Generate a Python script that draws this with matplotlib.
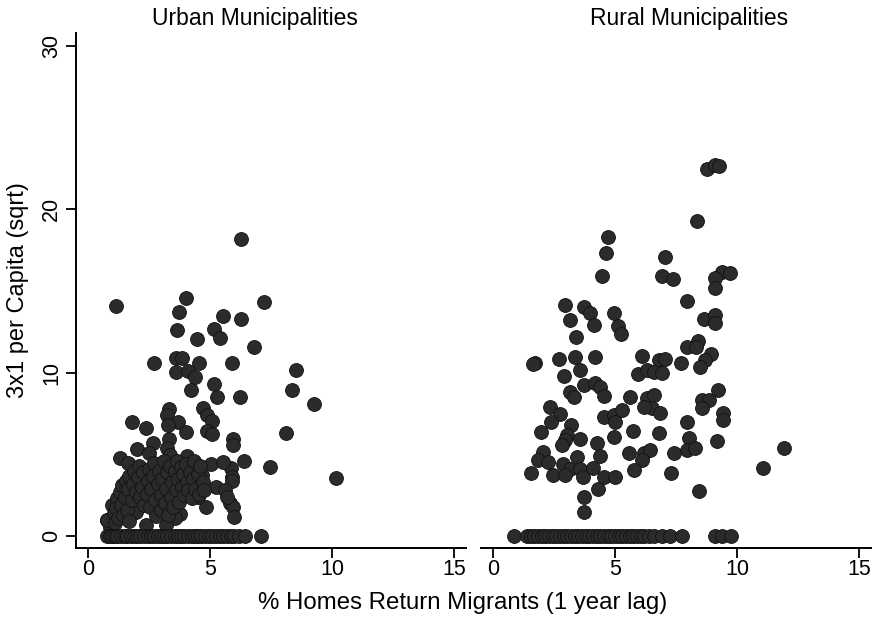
import matplotlib
matplotlib.use('Agg')
import matplotlib.pyplot as plt
import numpy as np

plt.rcParams['font.family'] = ['Liberation Sans', 'DejaVu Sans']

# Urban municipalities: nonzero values (x = % homes return migrants, y = sqrt 3x1 per capita)
urban_x = [6.29, 1.13, 4.0, 7.23, 3.73, 5.52, 6.28, 3.66, 5.15, 4.48, 5.41, 6.8, 3.6, 3.84,
           2.69, 4.54, 5.91, 3.62, 4.1, 4.4, 5.15, 4.21, 5.29, 6.22, 8.52, 8.37, 9.28, 8.1,
           10.16, 7.45, 6.38,
           5.93, 5.96, 5.85, 5.89, 5.91, 5.82, 5.96, 5.98, 5.25, 5.61, 5.68,
           3.33, 3.22, 4.7, 4.86, 5.07, 1.82, 3.67, 3.27, 2.36, 4.02, 4.86, 5.07, 3.33, 2.65,
           2.0, 2.5, 3.22, 3.36, 1.31, 1.63, 4.07, 5.04, 5.52, 4.84, 4.52, 4.43, 4.67, 3.77,
           3.57, 3.2, 2.38, 1.95, 0.77, 0.9, 0.97, 1.18,
           0.8, 1.05, 1.1, 1.15, 1.25, 1.3, 1.35, 1.4, 1.45, 1.5, 1.55, 1.6, 1.65, 1.7, 1.7,
           1.8, 1.85, 1.9, 1.95, 2.05, 2.1, 2.15, 2.2, 2.25, 2.3, 2.4, 2.45, 2.5, 2.55, 2.6,
           2.65, 2.7, 2.75, 2.8, 2.85, 2.9, 3.0, 3.0, 3.05, 3.1, 3.15, 3.2, 3.25, 3.3, 3.35,
           3.4, 3.45, 3.5, 3.55, 3.6, 3.65, 3.7, 3.75, 3.8, 3.85, 3.9, 3.95, 4.0, 4.05, 4.1,
           4.2, 4.25, 4.3, 4.35, 4.4, 4.5, 4.55, 4.6, 4.7, 4.75]
urban_y = [18.2, 14.1, 14.6, 14.35, 13.7, 13.5, 13.3, 12.6, 12.7, 12.06, 12.1, 11.6, 10.9, 10.9,
           10.6, 10.6, 10.6, 10.07, 10.1, 9.74, 9.33, 8.94, 8.53, 8.53, 10.19, 8.94, 8.1, 6.3,
           3.57, 4.23, 4.57,
           5.95, 5.6, 4.14, 3.6, 3.35, 2.0, 1.76, 1.18, 2.98, 2.82, 2.37,
           7.76, 7.4, 7.82, 7.41, 7.06, 7.0, 6.96, 6.8, 6.6, 6.39, 6.45, 6.23, 5.94, 5.67,
           5.3, 5.06, 5.37, 4.96, 4.8, 4.45, 4.9, 4.41, 4.55, 1.8, 2.37, 3.12, 3.71, 1.35,
           1.08, 0.67, 0.67, 1.49, 0.98, 0.57, 1.9, 2.31,
           1.0, 1.4, 0.8, 1.7, 1.1, 2.7, 1.9, 3.1, 1.3, 2.4, 3.4, 1.6, 2.9, 3.7, 0.9,
           2.2, 3.2, 4.0, 2.7, 3.6, 4.3, 2.4, 3.0, 3.9, 1.9, 2.6, 3.4, 4.1, 1.8, 2.9,
           3.7, 4.5, 2.2, 1.2, 3.2, 4.0, 2.5, 1.6, 3.5, 4.6, 2.0, 2.9, 3.9, 1.3, 4.3,
           2.4, 3.3, 1.8, 4.0, 2.8, 4.6, 3.5, 2.1, 4.2, 3.0, 3.8, 2.5, 4.4, 3.3, 2.8,
           3.9, 2.3, 3.5, 4.6, 2.9, 3.8, 2.6, 4.3, 3.3, 2.8]
urban_zero_x = [0.8, 0.9, 1.0, 1.1, 1.2, 1.35, 1.5, 1.6, 1.75, 1.9, 2.0, 2.15, 2.3, 2.45,
                2.6, 2.7, 2.85, 3.0, 3.1, 3.25, 3.4, 3.55, 3.7, 3.8, 3.95, 4.1, 4.25, 4.4,
                4.5, 4.65, 4.8, 4.95, 5.1, 5.25, 5.4, 5.55, 5.7, 5.85, 6.0, 6.2, 6.45, 7.1]

# Rural municipalities
rural_x = [4.71, 4.64, 4.47, 6.92, 2.97, 3.75, 3.96, 4.96, 3.14, 4.15, 5.12, 5.25, 3.4, 1.73,
           1.66, 2.7, 3.38, 4.18, 6.1, 6.8, 2.89, 3.58, 5.96, 6.32, 6.59, 3.16, 3.33, 3.71,
           4.19, 4.37, 4.53, 5.63, 6.32, 6.59, 2.34, 2.75, 4.53, 4.94, 5.01, 5.29, 6.5, 6.85,
           2.37, 3.19, 1.97, 3.05, 2.96, 2.82, 3.55, 4.95, 5.74, 6.8, 4.26, 2.07, 1.86, 2.27,
           3.44, 4.37, 5.56, 6.18, 6.45, 6.11, 2.85, 3.16, 3.58, 1.56, 2.45, 2.96, 3.67, 4.1,
           4.53, 4.99, 5.77, 4.29, 3.73, 3.73,
           8.78, 9.08, 9.26, 8.37, 7.04, 7.37, 9.4, 9.71, 9.08, 9.08, 7.97, 8.64, 9.08, 9.08,
           8.4, 7.96, 8.33, 7.07, 6.93, 7.71, 8.95, 8.68, 8.5, 9.24, 8.58, 8.85, 6.18, 8.58,
           9.42, 9.42, 7.95, 8.03, 7.96, 8.3, 9.18, 7.41, 7.3, 8.45, 11.91, 11.08]
rural_y = [18.33, 17.35, 15.92, 15.92, 14.15, 14.04, 13.68, 13.68, 13.23, 12.92, 12.86, 12.35,
           12.17, 10.61, 10.51, 10.84, 10.94, 10.94, 11.0, 10.78, 9.8, 10.17, 9.9, 10.17, 10.06,
           8.84, 8.53, 9.25, 9.35, 9.1, 8.57, 8.49, 8.43, 8.63, 7.92, 7.45, 7.31, 7.41, 7.0,
           7.72, 7.82, 7.51, 7.0, 6.8, 6.39, 6.19, 5.88, 5.57, 5.92, 6.08, 6.45, 6.29, 5.68,
           5.16, 4.65, 4.55, 4.82, 4.9, 5.06, 5.06, 5.27, 4.65, 4.41, 4.08, 4.08, 3.84, 3.74,
           3.74, 3.59, 4.18, 3.59, 3.59, 4.04, 2.86, 2.37, 1.45,
           22.47, 22.7, 22.67, 19.29, 17.07, 15.72, 16.19, 16.12, 15.82, 15.2, 14.41, 13.27,
           13.53, 13.02, 11.96, 11.55, 11.55, 10.84, 10.0, 10.61, 11.15, 10.78, 10.37, 8.94,
           8.3, 8.3, 7.92, 7.82, 7.55, 7.1, 7.0, 5.98, 5.27, 5.37, 5.82, 5.06, 3.84, 2.78,
           5.41, 4.14]
rural_zero_x = [0.86, 1.4, 1.55, 1.7, 1.85, 2.0, 2.15, 2.3, 2.45, 2.6, 2.75, 2.9, 3.05, 3.2,
                3.35, 3.5, 3.65, 3.8, 3.95, 4.1, 4.25, 4.4, 4.55, 4.7, 4.85, 5.0, 5.15, 5.3,
                5.45, 5.6, 5.75, 5.9, 6.05, 6.2, 6.38, 6.6, 6.93, 7.27, 7.75, 9.12, 9.4, 9.74]

panel_titles = ['Urban Municipalities', 'Rural Municipalities']
x_ticks = [0, 5, 10, 15]
y_ticks = [0, 10, 20, 30]

fig = plt.figure(figsize=(8.78, 6.18), dpi=100)
ax1 = fig.add_axes([0.0863, 0.1133, 0.4446, 0.8333])
ax2 = fig.add_axes([0.5476, 0.1133, 0.4446, 0.8333], sharey=ax1)

mk = dict(s=100, c='#2b2b2b', edgecolors='#111111', linewidths=0.6, zorder=3)
panels = [(ax1, urban_x, urban_y, urban_zero_x), (ax2, rural_x, rural_y, rural_zero_x)]
for ax, xs, ys, zx in panels:
    ax.scatter(xs, ys, **mk)
    ax.scatter(zx, np.zeros(len(zx)), **mk)
    ax.set_xlim(-0.5, 15.5)
    ax.set_xticks(x_ticks)
    ax.spines['top'].set_visible(False)
    ax.spines['right'].set_visible(False)
    ax.spines['bottom'].set_linewidth(1.4)
    ax.tick_params(axis='x', length=7, width=1.3, labelsize=15.5, pad=1)

ax1.set_ylim(-0.73, 30.8)
ax1.set_yticks(y_ticks)
ax1.spines['left'].set_linewidth(1.4)
ax1.tick_params(axis='y', length=7, width=1.3, labelsize=15.5, pad=3)
plt.setp(ax1.get_yticklabels(), rotation=90, va='center')

ax2.spines['left'].set_visible(False)
ax2.tick_params(axis='y', left=False, labelleft=False)

fig.text(255 / 878, 1 - 18 / 618, panel_titles[0], ha='center', va='center', fontsize=16.5)
fig.text(689 / 878, 1 - 18 / 618, panel_titles[1], ha='center', va='center', fontsize=16.5)
fig.text(463 / 878, 1 - 603 / 618, '% Homes Return Migrants (1 year lag)',
         ha='center', va='center', fontsize=17.3)
fig.text(18 / 878, 1 - 290 / 618, '3x1 per Capita (sqrt)', rotation=90,
         ha='center', va='center', fontsize=17)

fig.savefig('out.png', dpi=100, facecolor='white')
